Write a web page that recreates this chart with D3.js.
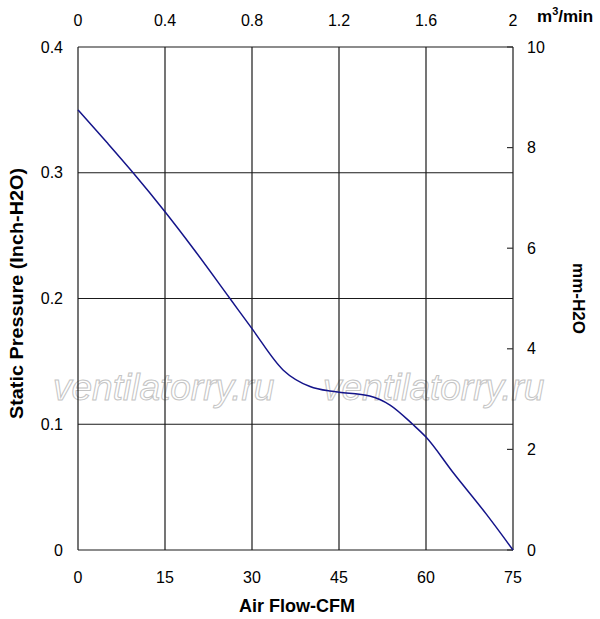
<!DOCTYPE html>
<html>
<head>
<meta charset="utf-8">
<script src="https://cdn.jsdelivr.net/npm/d3@7"></script>
<style>
  body { margin: 0; background: #fff; }
  text { font-family: "Liberation Sans", Arial, sans-serif; }
</style>
</head>
<body>
<svg width="600" height="619"></svg>
<script>
// curve
var airflowCFM = [0, 5, 9.5, 15, 20, 26.2, 30, 35.4, 40, 43.4, 45, 50.3, 53.8, 57.7, 60, 64.6, 70.4, 75];
var pressureInch = [0.35, 0.324, 0.3, 0.269, 0.239, 0.2, 0.176, 0.143, 0.130, 0.1264, 0.1255, 0.1225, 0.1153, 0.1, 0.0898, 0.062, 0.0285, 0];

var cfmTicks = [0, 15, 30, 45, 60, 75];
var inchTicks = [0, 0.1, 0.2, 0.3, 0.4];
var m3Ticks = [0, 0.4, 0.8, 1.2, 1.6, 2];
var mmTicks = [0, 2, 4, 6, 8, 10];
var watermarks = ["ventilatorry.ru", "ventilatorry.ru"];

var margin = { top: 47, right: 87, bottom: 69, left: 78 },
    width = 600 - margin.left - margin.right,
    height = 619 - margin.top - margin.bottom;

var svg = d3.select('svg');
var g = svg.append('g')
    .attr('transform', 'translate(' + margin.left + ',' + margin.top + ')');

var x = d3.scaleLinear().domain([0, 75]).range([0, width]);
var y = d3.scaleLinear().domain([0, 0.4]).range([height, 0]);
var xTop = d3.scaleLinear().domain([0, 2]).range([0, width]);
var yRight = d3.scaleLinear().domain([0, 10]).range([height, 0]);

// watermark, behind the grid
var wmX = [-25, 245];
g.selectAll('.wm')
    .data(watermarks)
    .enter().append('text')
    .attr('class', 'wm')
    .attr('x', (d, i) => wmX[i])
    .attr('y', 353)
    .style('font-size', '37px')
    .style('font-style', 'italic')
    .style('fill', 'none')
    .style('stroke', '#c4c4c4')
    .style('stroke-width', 1)
    .text(d => d);

// grid
g.selectAll('.vgrid')
    .data(cfmTicks)
    .enter().append('line')
    .attr('class', 'vgrid')
    .attr('x1', d => x(d)).attr('x2', d => x(d))
    .attr('y1', 0).attr('y2', height)
    .style('stroke', '#1a1a1a')
    .style('stroke-width', 1.2);

g.selectAll('.hgrid')
    .data(inchTicks)
    .enter().append('line')
    .attr('class', 'hgrid')
    .attr('x1', 0).attr('x2', width)
    .attr('y1', d => y(d)).attr('y2', d => y(d))
    .style('stroke', '#1a1a1a')
    .style('stroke-width', 1.2);

// small inward ticks on the right axis
g.selectAll('.rtick')
    .data(mmTicks)
    .enter().append('line')
    .attr('class', 'rtick')
    .attr('x1', width - 6).attr('x2', width)
    .attr('y1', d => yRight(d)).attr('y2', d => yRight(d))
    .style('stroke', '#333')
    .style('stroke-width', 1.2);

// tick labels
var fs = '16px';
g.selectAll('.lbl-left')
    .data(inchTicks)
    .enter().append('text')
    .attr('x', -15).attr('y', d => y(d)).attr('dy', '0.35em')
    .attr('text-anchor', 'end')
    .style('font-size', fs)
    .text(d => d);

g.selectAll('.lbl-right')
    .data(mmTicks)
    .enter().append('text')
    .attr('x', width + 14).attr('y', d => yRight(d)).attr('dy', '0.35em')
    .style('font-size', fs)
    .text(d => d);

g.selectAll('.lbl-bottom')
    .data(cfmTicks)
    .enter().append('text')
    .attr('x', d => x(d)).attr('y', height + 33)
    .attr('text-anchor', 'middle')
    .style('font-size', fs)
    .text(d => d);

g.selectAll('.lbl-top')
    .data(m3Ticks)
    .enter().append('text')
    .attr('x', d => xTop(d)).attr('y', -21)
    .attr('text-anchor', 'middle')
    .style('font-size', fs)
    .text(d => d);

// axis titles
svg.append('text')
    .attr('x', 297).attr('y', 612)
    .attr('text-anchor', 'middle')
    .style('font-size', '18px').style('font-weight', 'bold')
    .text('Air Flow-CFM');

svg.append('text')
    .attr('transform', 'translate(23,293.5) rotate(-90)')
    .attr('text-anchor', 'middle')
    .attr('textLength', 251)
    .attr('lengthAdjust', 'spacingAndGlyphs')
    .style('font-size', '19px').style('font-weight', 'bold')
    .text('Static Pressure (Inch-H2O)');

svg.append('text')
    .attr('transform', 'translate(573,' + (margin.top + height / 2) + ') rotate(90)')
    .attr('text-anchor', 'middle')
    .style('font-size', '17px').style('font-weight', 'bold')
    .text('mm-H2O');

var unit = svg.append('text')
    .attr('x', 537).attr('y', 22)
    .style('font-size', '17px').style('font-weight', 'bold');
unit.append('tspan').text('m');
unit.append('tspan').attr('dy', -7).style('font-size', '11px').text('3');
unit.append('tspan').attr('dy', 7).text('/min');

// curve
var pts = airflowCFM.map((d, i) => [d, pressureInch[i]]);
g.append('path')
    .datum(pts)
    .attr('d', d3.line()
        .x(d => x(d[0]))
        .y(d => y(d[1]))
        .curve(d3.curveMonotoneX))
    .style('fill', 'none')
    .style('stroke', '#14148a')
    .style('stroke-width', 1.5);
</script>
</body>
</html>
